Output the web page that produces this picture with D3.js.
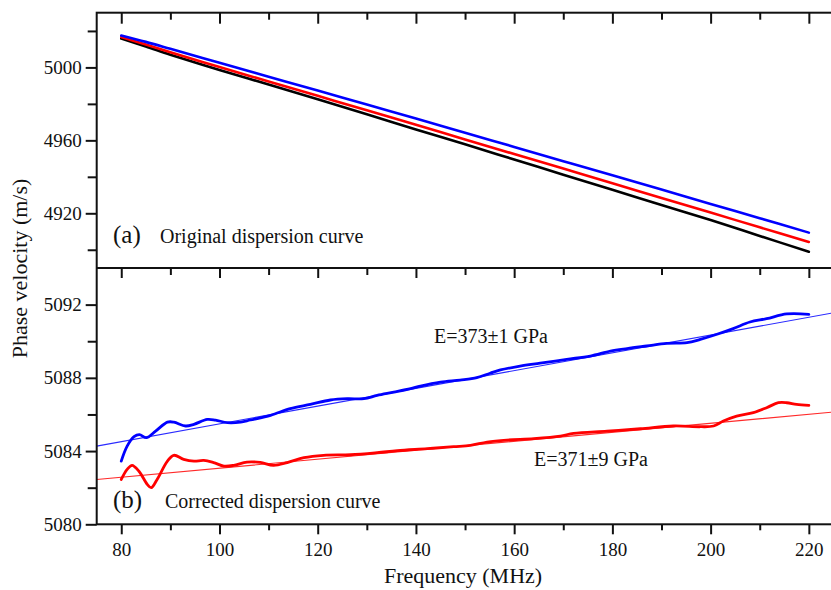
<!DOCTYPE html>
<html>
<head>
<meta charset="utf-8">
<script src="https://cdn.jsdelivr.net/npm/d3@7"></script>
<style>
  html, body { margin: 0; padding: 0; background: #fff; }
  svg { display: block; font-family: "Liberation Serif", "DejaVu Serif", serif; }
</style>
</head>
<body>
<svg id="chart" width="831" height="590"></svg>
<script>
// ── Datos panel (a): curva original ───────────────────────────────
const freqA  = [80, 85, 90, 100, 110, 120, 130, 140, 150, 160, 170, 180, 190, 200, 210, 220];
const blueA  = [5017.5, 5014.0, 5010.2, 5002.5, 4994.9, 4987.3, 4979.6, 4972.0, 4964.2, 4956.4, 4948.6, 4940.8, 4933.0, 4925.1, 4917.3, 4909.4];
const redA   = [5016.7, 5012.5, 5008.3, 5000.2, 4992.3, 4984.4, 4976.5, 4968.5, 4960.5, 4952.5, 4944.5, 4936.5, 4928.4, 4920.4, 4912.3, 4904.3];
const blackA = [5015.8, 5011.5, 5007.0, 4998.6, 4990.6, 4982.5, 4974.3, 4966.0, 4957.8, 4949.5, 4941.2, 4932.9, 4924.6, 4916.3, 4907.6, 4898.9];

// ── Datos panel (b): curva corregida ──────────────────────────────
const blueFreqB = [80.0, 81.2, 82.6, 83.7, 85.1, 87.0, 89.4, 90.7, 93.1, 94.8, 97.5, 99.2, 101.6, 104.3, 106.3, 110.4, 114.4, 118.5, 122.6, 126.0, 129.4, 132.1, 135.5, 138.9, 140.9, 145.0, 149.0, 152.4, 155.1, 157.2, 161.2, 165.3, 170.7, 175.5, 179.6, 183.0, 187.0, 191.1, 195.2, 197.9, 201.3, 204.6, 208.0, 211.4, 215.5, 220.0];
const blueVelB  = [5083.45, 5084.27, 5084.79, 5084.90, 5084.73, 5085.09, 5085.58, 5085.58, 5085.37, 5085.46, 5085.73, 5085.69, 5085.55, 5085.58, 5085.70, 5085.95, 5086.32, 5086.55, 5086.79, 5086.86, 5086.86, 5087.04, 5087.22, 5087.41, 5087.55, 5087.77, 5087.88, 5088.01, 5088.25, 5088.43, 5088.64, 5088.80, 5089.01, 5089.19, 5089.46, 5089.60, 5089.74, 5089.88, 5089.92, 5090.10, 5090.38, 5090.69, 5091.05, 5091.23, 5091.49, 5091.47];
const redFreqB  = [80.0, 81.2, 82.2, 83.6, 85.3, 86.1, 87.3, 89.4, 90.7, 92.7, 94.8, 96.8, 98.8, 100.9, 102.9, 105.6, 108.3, 111.0, 113.8, 117.2, 121.2, 126.7, 132.1, 136.2, 142.3, 147.7, 151.1, 154.5, 158.5, 164.0, 169.4, 172.1, 178.9, 185.7, 192.4, 197.9, 200.6, 202.6, 205.3, 208.7, 211.4, 213.8, 215.5, 217.5, 220.0];
const redVelB   = [5082.45, 5083.00, 5083.22, 5082.90, 5082.18, 5082.00, 5082.45, 5083.45, 5083.77, 5083.55, 5083.45, 5083.49, 5083.37, 5083.18, 5083.22, 5083.40, 5083.38, 5083.22, 5083.37, 5083.64, 5083.77, 5083.80, 5083.91, 5084.02, 5084.13, 5084.24, 5084.31, 5084.49, 5084.60, 5084.68, 5084.82, 5084.97, 5085.09, 5085.22, 5085.37, 5085.33, 5085.37, 5085.64, 5085.91, 5086.10, 5086.37, 5086.64, 5086.64, 5086.55, 5086.50];

// ajustes lineales
const fitFreq = [75, 225];
const blueFit = [5084.27, 5091.55];
const redFit  = [5082.45, 5086.13];

// ── Ticks ─────────────────────────────────────────────────────────
const xMajor  = [80, 100, 120, 140, 160, 180, 200, 220];
const xMinor  = [90, 110, 130, 150, 170, 190, 210];
const yAMajor = [4920, 4960, 5000];
const yAMinor = [4900, 4940, 4980, 5020];
const yBMajor = [5080, 5084, 5088, 5092];
const yBMinor = [5082, 5086, 5090];

// ── Escalas ───────────────────────────────────────────────────────
const L = 96.7, R = 833.4;
const topA = 12.7, midY = 268, botB = 524.3;

const x  = d3.scaleLinear().domain([75, 225]).range([L, R]);
const yA = d3.scaleLinear().domain([4890, 5030]).range([midY, topA]);
const yB = d3.scaleLinear().domain([5080, 5094]).range([botB, midY]);

const svg = d3.select("#chart");

// ── Curvas ────────────────────────────────────────────────────────
function drawLine(fx, fy, ys, color, width, curve) {
  const line = d3.line()
    .x((d, i) => x(fx[i]))
    .y(d => ys(d))
    .curve(curve || d3.curveCatmullRom);
  svg.append("path")
    .datum(fy)
    .attr("d", line)
    .attr("fill", "none")
    .attr("stroke", color)
    .attr("stroke-width", width)
    .attr("stroke-linejoin", "round")
    .attr("stroke-linecap", "round");
}

drawLine(freqA, blackA, yA, "#000", 2.6);
drawLine(freqA, redA,   yA, "#f00", 2.6);
drawLine(freqA, blueA,  yA, "#00f", 2.6);

drawLine(fitFreq, blueFit, yB, "#2a2aff", 1.1, d3.curveLinear);
drawLine(fitFreq, redFit,  yB, "#ff2a2a", 1.1, d3.curveLinear);
drawLine(blueFreqB, blueVelB, yB, "#00f", 2.8);
drawLine(redFreqB,  redVelB,  yB, "#f00", 2.8);

// ── Ejes ──────────────────────────────────────────────────────────
function styleAxis(g) {
  g.select(".domain").remove();
  g.selectAll(".tick line").attr("stroke", "#111").attr("stroke-width", 2);
  g.selectAll(".tick text").attr("fill", "#111").attr("font-size", 19)
    .attr("font-family", "Liberation Serif, serif");
}

function axis(fn, scale, vals, size, pad, labels, tx, ty) {
  const a = fn(scale).tickValues(vals).tickSizeOuter(0).tickSize(size).tickPadding(pad);
  if (!labels) a.tickFormat("");
  else a.tickFormat(d3.format("d"));
  svg.append("g").attr("transform", `translate(${tx},${ty})`).call(a).call(styleAxis);
}

// panel (a)
axis(d3.axisLeft,   yA, yAMajor, 11, 4, true,  L, 0);
axis(d3.axisLeft,   yA, yAMinor, 9,  4, false, L, 0);
axis(d3.axisLeft,   yA, yAMajor, -10, 0, false, R, 0);
axis(d3.axisLeft,   yA, yAMinor, -6,  0, false, R, 0);
axis(d3.axisBottom, x,  xMajor, 11, 0, false, 0, topA);
axis(d3.axisBottom, x,  xMinor, 7,  0, false, 0, topA);

// panel (b)
axis(d3.axisLeft,   yB, yBMajor, 11, 4, true,  L, 0);
axis(d3.axisLeft,   yB, yBMinor, 9,  4, false, L, 0);
axis(d3.axisLeft,   yB, yBMajor, -10, 0, false, R, 0);
axis(d3.axisLeft,   yB, yBMinor, -6,  0, false, R, 0);
axis(d3.axisBottom, x,  xMajor, 10, 0, false, 0, midY);
axis(d3.axisBottom, x,  xMinor, 7,  0, false, 0, midY);
axis(d3.axisBottom, x,  xMajor, 10, 8, true,  0, botB);
axis(d3.axisBottom, x,  xMinor, 6,  0, false, 0, botB);

// marco
svg.append("rect")
  .attr("x", L).attr("y", topA)
  .attr("width", R - L).attr("height", botB - topA)
  .attr("fill", "none").attr("stroke", "#111").attr("stroke-width", 2);
svg.append("line")
  .attr("x1", L).attr("x2", R).attr("y1", midY).attr("y2", midY)
  .attr("stroke", "#111").attr("stroke-width", 2);

// ── Textos ────────────────────────────────────────────────────────
svg.append("text")
  .attr("transform", `translate(27,${(topA + botB) / 2}) rotate(-90)`)
  .attr("text-anchor", "middle")
  .attr("font-size", 22).attr("fill", "#111")
  .text("Phase velocity (m/s)");

svg.append("text")
  .attr("x", (L + R) / 2 - 2).attr("y", 583)
  .attr("text-anchor", "middle")
  .attr("font-size", 22).attr("fill", "#111")
  .text("Frequency (MHz)");

function panelLabel(tag, txt, ty, tx2) {
  svg.append("text").attr("x", 113).attr("y", ty)
    .attr("font-size", 25).attr("fill", "#111").text(tag);
  svg.append("text").attr("x", tx2).attr("y", ty)
    .attr("font-size", 20).attr("fill", "#111").text(txt);
}
panelLabel("(a)", "Original dispersion curve", 243, 160);
panelLabel("(b)", "Corrected dispersion curve", 508, 165);

svg.append("text").attr("x", 434).attr("y", 343)
  .attr("font-size", 20).attr("fill", "#111").text("E=373±1 GPa");
svg.append("text").attr("x", 534).attr("y", 466)
  .attr("font-size", 20).attr("fill", "#111").text("E=371±9 GPa");
</script>
</body>
</html>
